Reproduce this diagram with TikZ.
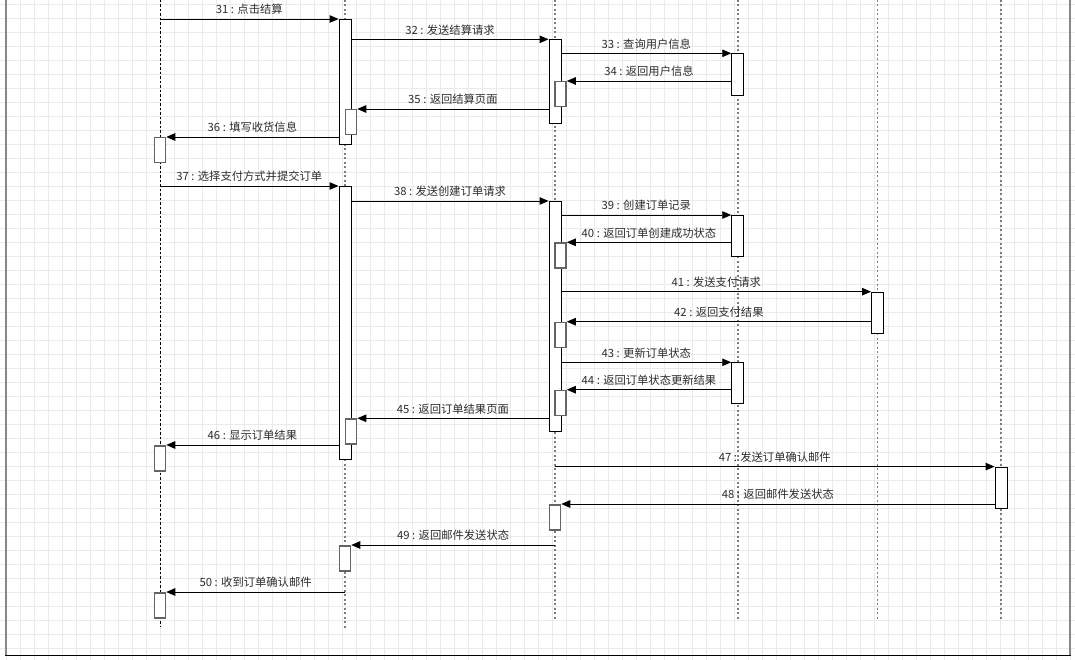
\documentclass[tikz,border=0pt]{standalone}
\usepackage{fontspec}
\newfontfamily\cjkfont{Noto Sans CJK SC}
\usepackage{tikz}
\usetikzlibrary{arrows.meta,positioning,calc}
\definecolor{gridgray}{RGB}{234,234,234}
\definecolor{lifegray}{RGB}{125,125,125}
\definecolor{replygray}{RGB}{100,100,100}
\definecolor{labeltext}{RGB}{45,45,45}
\definecolor{framegray}{RGB}{135,135,135}

\begin{document}
\begin{tikzpicture}[x=1pt, y=-1pt,
    gridln/.style={gridgray, line width=0.8pt},
    lifeusr/.style={black, line width=0.8pt, dash pattern=on 2.5pt off 2pt},
    lifesys/.style={lifegray, line width=1.6pt, dash pattern=on 2pt off 2.5pt},
    actbox/.style={draw=black, fill=white, line width=0.9pt, minimum width=12pt, inner sep=0pt, anchor=north},
    retbox/.style={draw=replygray, fill=white, line width=1.5pt, minimum width=11pt, minimum height=25pt, inner sep=0pt, anchor=north},
    msg/.style={line width=0.9pt, -{Triangle[length=9pt, width=7.5pt]}},
    msglbl/.style={midway, yshift=9.5pt, font=\cjkfont\fontsize{11.3}{13}\selectfont, text=labeltext, inner sep=0pt}
]
    \useasboundingbox (0,0) rectangle (1075,660);
    \fill[white] (0,0) rectangle (1075,660);
    \foreach \gx in {0,...,76}
        \draw[gridln] ({6.7+14*\gx},0) -- ({6.7+14*\gx},660);
    \foreach \gy in {0,...,46}
        \draw[gridln] (0,{4+14*\gy}) -- (1075,{4+14*\gy});

    \draw[framegray, line width=2pt] (6,0) -- (6,655.5);
    \draw[framegray, line width=2pt] (1069.5,0) -- (1069.5,655.5);
    \draw[black, line width=1.2pt] (5,655.5) -- (1070.5,655.5);

    \coordinate (L1) at (160,0);
    \coordinate (L2) at (345,0);
    \coordinate (L3) at (555,0);
    \coordinate (L4) at (737.7,0);
    \coordinate (L5) at (877.5,0);
    \coordinate (L6) at (1001,0);
    \coordinate (L1e) at (160,627);
    \coordinate (L2e) at (345,628);
    \coordinate (L3e) at (555,620);
    \coordinate (L4e) at (737.7,620);
    \coordinate (L5e) at (877.5,620);
    \coordinate (L6e) at (1001,620);
    \draw[lifeusr] (L1) -- (L1e);
    \draw[lifesys] (L2) -- (L2e);
    \draw[lifesys] (L3) -- (L3e);
    \draw[lifesys] (L4) -- (L4e);
    \draw[lifesys] (L5) -- (L5e);
    \draw[lifesys] (L6) -- (L6e);

    \node[actbox, minimum height=125pt] (A2a) at (345,19) {};
    \node[actbox, minimum height=84pt] (A3a) at (555,39.3) {};
    \node[actbox, minimum height=42pt] (A4a) at (737.7,53.3) {};
    \node[retbox] (R34) at (560.5,81) {};
    \node[retbox] (R35) at (351,109) {};
    \node[retbox] (R36) at (160,137) {};

    \node[actbox, minimum height=273pt] (A2b) at (345,186) {};
    \node[actbox, minimum height=230pt] (A3b) at (555,201) {};
    \node[actbox, minimum height=41.3pt] (A4b) at (737.7,215) {};
    \node[retbox] (R40) at (560.5,242.3) {};
    \node[actbox, minimum height=41.6pt] (A5) at (877.5,291.7) {};
    \node[retbox] (R42) at (560.5,321.7) {};
    \node[actbox, minimum height=41pt] (A4c) at (737.7,362.3) {};
    \node[retbox] (R44) at (560.5,389.7) {};
    \node[retbox] (R45) at (351,418.3) {};
    \node[retbox] (R46) at (160,445) {};

    \node[actbox, minimum height=41.6pt] (A6) at (1001,466.6) {};
    \node[retbox] (R48) at (555,504) {};
    \node[retbox] (R49) at (345,545) {};
    \node[retbox] (R50) at (160,592) {};

    \draw[msg] (A2a.north west -| L1) -- (A2a.north west) node[msglbl] {31 : 点击结算};
    \draw[msg] (A2a.east |- A3a.north) -- (A3a.north west) node[msglbl] {32 : 发送结算请求};
    \draw[msg] (A3a.east |- A4a.north) -- (A4a.north west) node[msglbl] {33 : 查询用户信息};
    \draw[msg] (A4a.west |- R34.north) -- (R34.north east) node[msglbl] {34 : 返回用户信息};
    \draw[msg] (A3a.west |- R35.north) -- (R35.north east) node[msglbl] {35 : 返回结算页面};
    \draw[msg] (A2a.west |- R36.north) -- (R36.north east) node[msglbl] {36 : 填写收货信息};
    \draw[msg] (A2b.north west -| L1) -- (A2b.north west) node[msglbl] {37 : 选择支付方式并提交订单};
    \draw[msg] (A2b.east |- A3b.north) -- (A3b.north west) node[msglbl] {38 : 发送创建订单请求};
    \draw[msg] (A3b.east |- A4b.north) -- (A4b.north west) node[msglbl] {39 : 创建订单记录};
    \draw[msg] (A4b.west |- R40.north) -- (R40.north east) node[msglbl] {40 : 返回订单创建成功状态};
    \draw[msg] (A3b.east |- A5.north) -- (A5.north west) node[msglbl] {41 : 发送支付请求};
    \draw[msg] (A5.west |- R42.north) -- (R42.north east) node[msglbl] {42 : 返回支付结果};
    \draw[msg] (A3b.east |- A4c.north) -- (A4c.north west) node[msglbl] {43 : 更新订单状态};
    \draw[msg] (A4c.west |- R44.north) -- (R44.north east) node[msglbl] {44 : 返回订单状态更新结果};
    \draw[msg] (A3b.west |- R45.north) -- (R45.north east) node[msglbl] {45 : 返回订单结果页面};
    \draw[msg] (A2b.west |- R46.north) -- (R46.north east) node[msglbl] {46 : 显示订单结果};
    \draw[msg] (A6.north west -| L3) -- (A6.north west) node[msglbl] {47 : 发送订单确认邮件};
    \draw[msg] (A6.west |- R48.north) -- (R48.north east) node[msglbl] {48 : 返回邮件发送状态};
    \draw[msg] (R49.north east -| L3) -- (R49.north east) node[msglbl] {49 : 返回邮件发送状态};
    \draw[msg] (R50.north east -| L2) -- (R50.north east) node[msglbl] {50 : 收到订单确认邮件};
\end{tikzpicture}
\end{document}
